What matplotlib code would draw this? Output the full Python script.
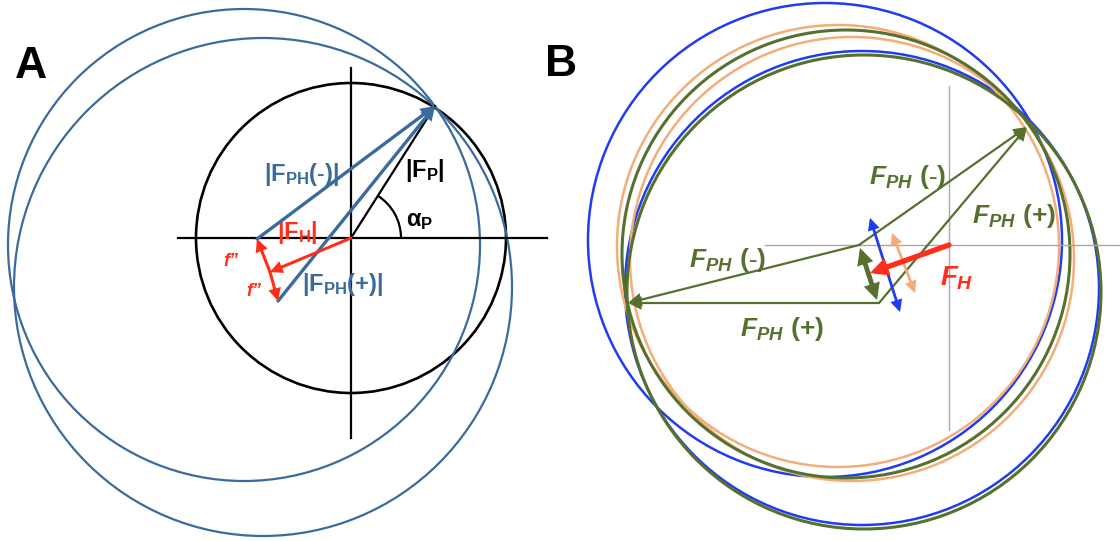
import numpy as np
import matplotlib.pyplot as plt
from matplotlib.patches import Circle, Arc

plt.rcParams['font.family'] = ['Liberation Sans', 'DejaVu Sans']
plt.rcParams['mathtext.fontset'] = 'custom'
plt.rcParams['mathtext.rm'] = 'Liberation Sans:bold'
plt.rcParams['mathtext.bf'] = 'Liberation Sans:bold'
plt.rcParams['mathtext.it'] = 'Liberation Sans:bold:italic'

# ---- panel A (pixel coords, y down) ----
a_origin = (351, 238)
a_fp_tip = (435, 106)
a_black_r = 155
a_blue_centers = [(244, 245), (263, 287)]
a_blue_radii = [236, 249]
a_fh_tip = (270, 272)
a_fph_minus_start = (257, 239)
a_fph_plus_start = (278, 301)

# ---- panel B ----
b_origin = (949, 245)
b_p_tip = (1027, 127)
b_left = (628, 303)
b_j_minus = (859, 245)
b_j_plus = (879, 303)
b_fh_tip = (870, 273)
b_circle_colors = ["#1f3cf0", "#1f3cf0", "#f4ad78", "#f4ad78", "#56702f", "#56702f"]
b_circle_centers = [(825, 240), (862, 288), (838, 246), (852, 259), (846, 254), (864, 292)]
b_circle_radii = [237, 237, 221, 222, 224, 237]
b_blue_arrow = [(870, 218), (900, 312)]
b_orange_arrow = [(892, 233), (915, 293)]
b_green_arrow = [(860, 248), (877, 300)]

steel = "#3a6b9c"
red = "#ff2d1a"
green = "#56702f"
HY = "\u2011"  # plain hyphen (mathtext turns '-' into a minus)

fig = plt.figure(figsize=(11.2, 5.41), dpi=100)
ax = fig.add_axes([0, 0, 1, 1])
ax.set_xlim(0, 1120)
ax.set_ylim(541, 0)
ax.axis("off")


def arrow(p0, p1, color, lw, style="-|>", ms=16, z=4):
    ax.annotate("", xy=p1, xytext=p0,
                arrowprops=dict(arrowstyle=style, color=color, lw=lw, mutation_scale=ms,
                                shrinkA=0, shrinkB=0, joinstyle="miter"), zorder=z)


# panel A
ax.plot([178, 547], [a_origin[1], a_origin[1]], color="black", lw=1.6)
ax.plot([a_origin[0], a_origin[0]], [68, 438], color="black", lw=1.6)
ax.add_patch(Circle(a_origin, a_black_r, fill=False, color="black", lw=1.9))
for c, r in zip(a_blue_centers, a_blue_radii):
    ax.add_patch(Circle(c, r, fill=False, color=steel, lw=1.6))
ax.plot([a_origin[0], a_fp_tip[0]], [a_origin[1], a_fp_tip[1]], color="black", lw=1.6)
ang = np.degrees(np.arctan2(a_fp_tip[1] - a_origin[1], a_fp_tip[0] - a_origin[0]))
ax.add_patch(Arc(a_origin, 100, 100, theta1=ang, theta2=0, color="black", lw=1.6))
arrow(a_fph_minus_start, a_fp_tip, steel, 2.4)
arrow(a_fph_plus_start, a_fp_tip, steel, 2.4)
arrow(a_origin, a_fh_tip, red, 2.2, ms=14)
arrow(a_fh_tip, a_fph_minus_start, red, 2.2, ms=14)
arrow(a_fh_tip, a_fph_plus_start, red, 2.2, ms=14)

ax.text(31, 66, "A", fontsize=32, fontweight="bold", ha="center", va="center")
ax.text(425, 170, r"$|\mathrm{F}_{\mathrm{P}}|$", fontsize=17, ha="center", va="center")
ax.text(420, 221, r"$\mathrm{\alpha}_{\mathrm{P}}$", fontsize=17, ha="center", va="center")
ax.text(302, 174, r"$|\mathrm{F}_{\mathrm{PH}}(" + HY + r")|$", fontsize=17, color=steel,
        ha="center", va="center")
ax.text(343, 285, r"$|\mathrm{F}_{\mathrm{PH}}(+)|$", fontsize=17, color=steel, ha="center", va="center")
ax.text(297, 233, r"$|\mathrm{F}_{\mathrm{H}}|$", fontsize=17, color=red, ha="center", va="center")
ax.text(231, 262, "f\u201d", fontsize=13, color=red, style="italic", fontweight="bold", ha="center", va="center")
ax.text(254, 291, "f\u201d", fontsize=13, color=red, style="italic", fontweight="bold", ha="center", va="center")

# panel B
ax.plot([765, 1120], [b_origin[1], b_origin[1]], color="#a8a8a8", lw=1.0)
ax.plot([b_origin[0], b_origin[0]], [86, 430], color="#a8a8a8", lw=1.0)
for col, c, r in zip(b_circle_colors, b_circle_centers, b_circle_radii):
    ax.add_patch(Circle(c, r, fill=False, color=col, lw=2.2 if col == green else 1.8))
arrow(b_j_minus, b_p_tip, green, 1.6, ms=18)
arrow(b_j_plus, b_p_tip, green, 1.6, ms=18)
arrow(b_j_minus, b_left, green, 1.6, ms=18)
arrow(b_j_plus, b_left, green, 1.6, ms=18)
arrow(b_blue_arrow[0], b_blue_arrow[1], "#1f3cf0", 2.0, style="<|-|>", ms=14)
arrow(b_orange_arrow[0], b_orange_arrow[1], "#f4ad78", 2.0, style="<|-|>", ms=14)
arrow(b_green_arrow[0], b_green_arrow[1], green, 3.5, style="<|-|>", ms=16)
arrow(b_origin, b_fh_tip, red, 3.8, ms=18, z=5)

fph_minus = r"$F_{PH}\ \mathit{(" + HY + r")}$"
fph_plus = r"$F_{PH}\ \mathit{(+)}$"
ax.text(561, 64, "B", fontsize=32, fontweight="bold", ha="center", va="center")
ax.text(908, 177, fph_minus, fontsize=19, color=green, ha="center", va="center")
ax.text(1014, 216, fph_plus, fontsize=19, color=green, ha="center", va="center")
ax.text(728, 260, fph_minus, fontsize=19, color=green, ha="center", va="center")
ax.text(782, 329, fph_plus, fontsize=19, color=green, ha="center", va="center")
ax.text(957, 278, r"$F_{H}$", fontsize=20, color=red, ha="center", va="center")

fig.savefig("out.png", dpi=100)
